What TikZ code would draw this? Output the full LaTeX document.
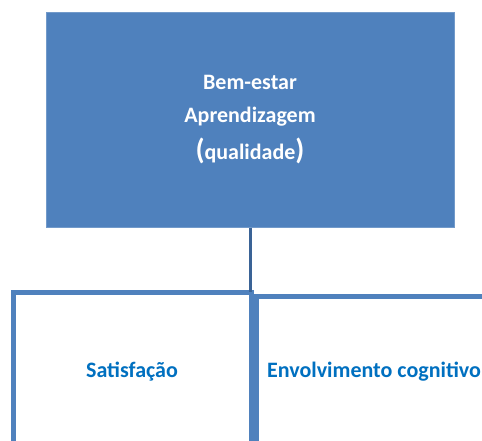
\documentclass[tikz,border=0pt]{standalone}
\usepackage{fontspec}
\setmainfont{Carlito}
\usepackage{tikz}
\usetikzlibrary{positioning}

\definecolor{boxblue}{HTML}{4F81BD}
\definecolor{linkblue}{HTML}{3A6396}
\definecolor{textblue}{HTML}{0070C0}

\begin{document}
\begin{tikzpicture}[x=1pt,y=-1pt,semithick]
  \tikzstyle{topbox}=[fill=boxblue,draw=boxblue!80!white,line width=1pt,
                      text=white,align=center,inner sep=0pt,
                      font=\fontsize{22}{33}\selectfont\bfseries]
  \tikzstyle{subbox}=[fill=white,draw=boxblue,line width=5pt,text=textblue,
                      inner sep=0pt,font=\fontsize{22}{26}\selectfont\bfseries]

  \useasboundingbox (0,0) rectangle (482,441);
  \clip (0,0) rectangle (482,441);

  \node[topbox, minimum width=408pt, minimum height=214pt] (W) at (250,120)
    {Bem-estar\\Aprendizagem\\[4pt]{\fontsize{29}{33}\selectfont(}qualidade{\fontsize{29}{33}\selectfont)}};
  \node[subbox, minimum width=238pt, minimum height=160pt] (S) at (132,372) {Satisfação};
  \node[subbox, minimum width=236pt, minimum height=152pt] (E) at (374,372) {Envolvimento cognitivo};
  \coordinate (J) at (250,292);

  \draw[linkblue, line width=3pt] (W.south) -- (J);
\end{tikzpicture}
\end{document}
